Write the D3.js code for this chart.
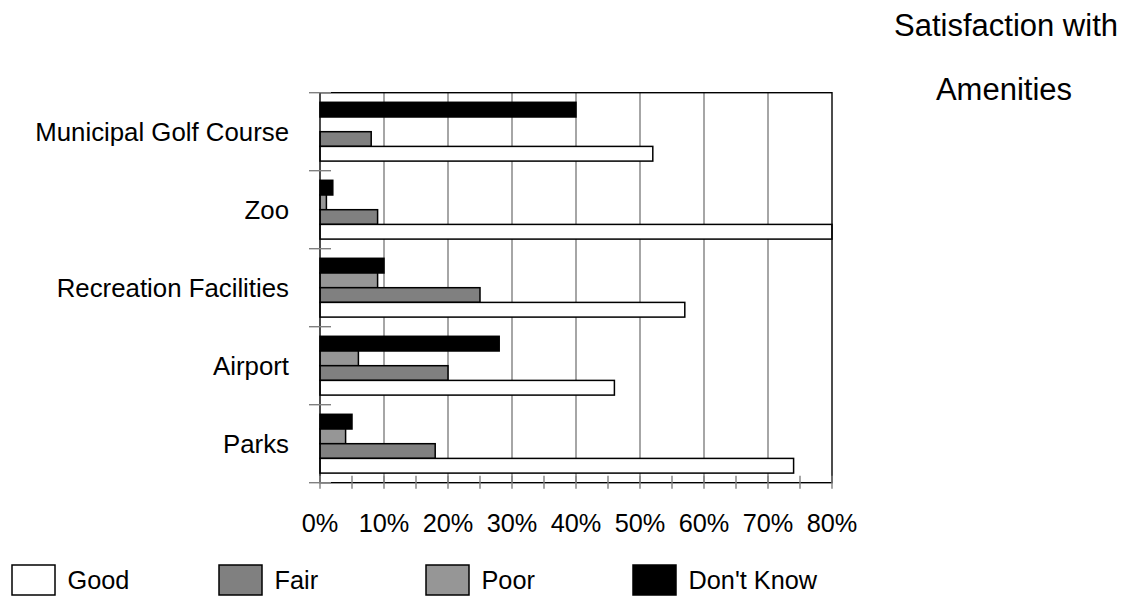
<!DOCTYPE html>
<html>
<head>
<meta charset="utf-8">
<script src="https://cdn.jsdelivr.net/npm/d3@7"></script>
<style>
  html, body { margin: 0; padding: 0; background: #fff; }
  svg { display: block; font-family: Arial, "Liberation Sans", sans-serif; }
</style>
</head>
<body>
<svg id="chart" width="1131" height="598"></svg>
<script>
// Amenities surveyed, listed top to bottom
const categories = ["Municipal Golf Course", "Zoo", "Recreation Facilities", "Airport", "Parks"];

// Response shares (%) per amenity, same order as categories
const good     = [52, 80, 57, 46, 74];
const fair     = [8, 9, 25, 20, 18];
const poor     = [0, 1, 9, 6, 4];
const dontKnow = [40, 2, 10, 28, 5];

const seriesNames = ["Good", "Fair", "Poor", "Don't Know"];
const seriesValues = { "Good": good, "Fair": fair, "Poor": poor, "Don't Know": dontKnow };
const seriesFill = { "Good": "#ffffff", "Fair": "#808080", "Poor": "#969696", "Don't Know": "#000000" };

const xTicks = [0, 10, 20, 30, 40, 50, 60, 70, 80];
const xMinorTicks = d3.range(0, 81, 5);

const svg = d3.select("#chart");

const plot = { left: 320, right: 832, top: 92.7, bottom: 482.7 };

const x = d3.scaleLinear().domain([0, 80]).range([plot.left, plot.right]);
const y = d3.scaleBand().domain(categories).range([plot.top, plot.bottom]).padding(0);

// bars within each category: Don't Know on top, Good at the bottom
const barOrder = ["Don't Know", "Poor", "Fair", "Good"];
const ySub = d3.scaleBand().domain(barOrder).range([9.6, 68.4]).padding(0);

// vertical gridlines
svg.append("g")
  .selectAll("line")
  .data(xTicks.filter(t => t > 0 && t < 80))
  .join("line")
  .attr("x1", d => x(d)).attr("x2", d => x(d))
  .attr("y1", plot.top).attr("y2", plot.bottom)
  .attr("stroke", "#808080").attr("stroke-width", 1.4);

// bars
const rows = [];
categories.forEach((c, i) => {
  barOrder.forEach(s => rows.push({ cat: c, series: s, value: seriesValues[s][i] }));
});

svg.append("g")
  .selectAll("rect")
  .data(rows.filter(d => d.value > 0))
  .join("rect")
  .attr("x", x(0))
  .attr("y", d => y(d.cat) + ySub(d.series))
  .attr("width", d => x(d.value) - x(0))
  .attr("height", ySub.bandwidth())
  .attr("fill", d => seriesFill[d.series])
  .attr("stroke", "#000")
  .attr("stroke-width", 1.5);

// plot frame
svg.append("rect")
  .attr("x", plot.left).attr("y", plot.top)
  .attr("width", plot.right - plot.left).attr("height", plot.bottom - plot.top)
  .attr("fill", "none").attr("stroke", "#000").attr("stroke-width", 1.4);

// category ticks on the left axis (at band boundaries)
const bounds = categories.map(c => y(c)).concat([plot.bottom]);
svg.append("g")
  .selectAll("line")
  .data(bounds)
  .join("line")
  .attr("x1", plot.left - 11).attr("x2", plot.left + 11)
  .attr("y1", d => d).attr("y2", d => d)
  .attr("stroke", "#808080").attr("stroke-width", 1.4);

// x-axis ticks every 5%
svg.append("g")
  .selectAll("line")
  .data(xMinorTicks)
  .join("line")
  .attr("x1", d => x(d)).attr("x2", d => x(d))
  .attr("y1", plot.bottom - 7).attr("y2", plot.bottom + 6)
  .attr("stroke", "#808080").attr("stroke-width", 1.4);

// x tick labels
svg.append("g")
  .selectAll("text")
  .data(xTicks)
  .join("text")
  .attr("x", d => x(d)).attr("y", 531.5)
  .attr("text-anchor", "middle")
  .attr("font-size", 25.3)
  .attr("fill", "#000")
  .text(d => d + "%");

// category labels
svg.append("g")
  .selectAll("text")
  .data(categories)
  .join("text")
  .attr("x", 289)
  .attr("y", d => y(d) + y.bandwidth() / 2)
  .attr("dy", "0.35em")
  .attr("text-anchor", "end")
  .attr("font-size", 25.8)
  .attr("fill", "#000")
  .text(d => d);

// title
const title = svg.append("text")
  .attr("text-anchor", "middle")
  .attr("font-size", 31)
  .attr("fill", "#000");
title.append("tspan").attr("x", 1006).attr("y", 36).text("Satisfaction with");
title.append("tspan").attr("x", 1004).attr("y", 100).text("Amenities");

// legend
const legendX = [12, 219, 426, 633];
const legend = svg.append("g")
  .selectAll("g")
  .data(seriesNames)
  .join("g")
  .attr("transform", (d, i) => `translate(${legendX[i]},565)`);

legend.append("rect")
  .attr("width", 43).attr("height", 30)
  .attr("fill", d => seriesFill[d])
  .attr("stroke", "#000").attr("stroke-width", 1.5);

legend.append("text")
  .attr("x", 55.5).attr("y", 15)
  .attr("dy", "0.35em")
  .attr("font-size", 25.3)
  .attr("fill", "#000")
  .text(d => d);
</script>
</body>
</html>
